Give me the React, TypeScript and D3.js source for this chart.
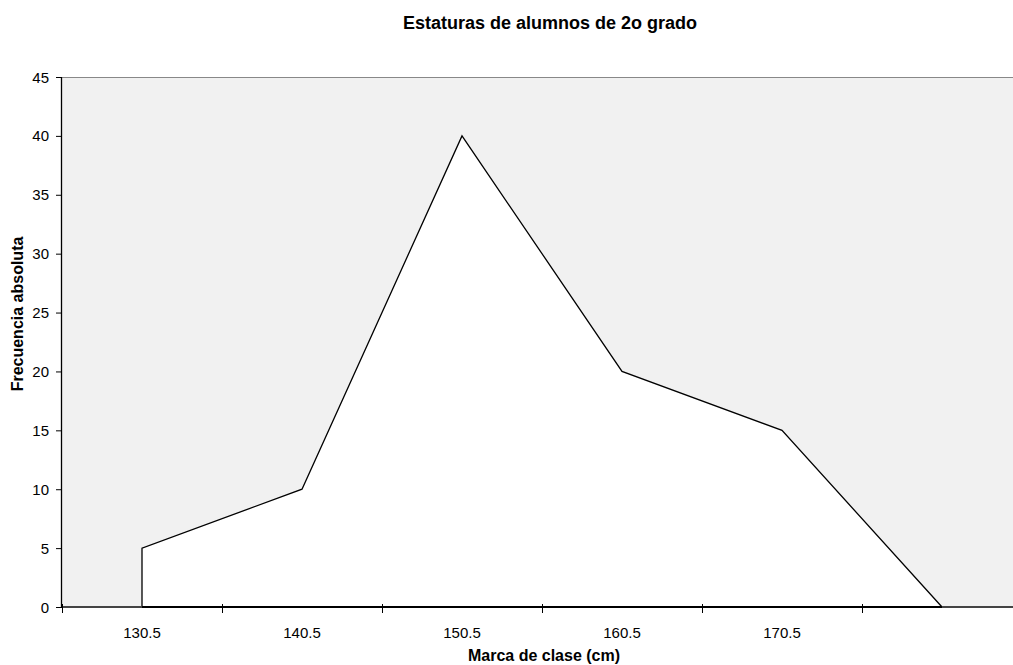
import React, { useRef, useEffect } from 'react'
import * as d3 from 'd3'

// class marks (the last one has no label in the original)
const categories = ['130.5', '140.5', '150.5', '160.5', '170.5', '180.5']
const tickLabels = ['130.5', '140.5', '150.5', '160.5', '170.5', '']
const frequencies = [5, 10, 40, 20, 15, 0]
const yTicks = [0, 5, 10, 15, 20, 25, 30, 35, 40, 45]

const W = 1013
const H = 665

const Chart: React.FC = () => {
  const ref = useRef<SVGSVGElement>(null)

  useEffect(() => {
    const svg = d3.select(ref.current)
    svg.selectAll('*').remove()

    const left = 62
    const right = 1022 // plot runs past the picture edge, like the original
    const top = 77
    const bottom = 607

    const x = d3.scaleBand().domain(categories).range([left, right])
    const y = d3.scaleLinear().domain([0, 45]).range([bottom, top])
    const cx = (c: string) => (x(c) as number) + x.bandwidth() / 2

    const font = 'Liberation Sans, Arial, sans-serif'

    // plot background
    svg
      .append('rect')
      .attr('x', left)
      .attr('y', top)
      .attr('width', right - left)
      .attr('height', bottom - top)
      .attr('fill', '#f1f1f1')
    svg
      .append('line')
      .attr('x1', left)
      .attr('x2', right)
      .attr('y1', top + 0.5)
      .attr('y2', top + 0.5)
      .attr('stroke', '#888')

    const pts: [string, number][] = categories.map((c, i) => [c, frequencies[i]])

    const area = d3
      .area<[string, number]>()
      .x(d => cx(d[0]))
      .y0(y(0))
      .y1(d => y(d[1]))

    svg
      .append('path')
      .datum(pts)
      .attr('d', area)
      .attr('fill', '#fff')
      .attr('stroke', 'none')

    // outline: up from the baseline, along the values
    const line = d3
      .line<[string, number]>()
      .x(d => cx(d[0]))
      .y(d => d[1])
    const outline: [string, number][] = [[categories[0], y(0)], ...pts.map(p => [p[0], y(p[1])] as [string, number])]
    svg
      .append('path')
      .datum(outline)
      .attr('d', line)
      .attr('fill', 'none')
      .attr('stroke', '#000')
      .attr('stroke-width', 1.3)

    // x axis
    svg
      .append('line')
      .attr('x1', left)
      .attr('x2', right)
      .attr('y1', bottom)
      .attr('y2', bottom)
      .attr('stroke', '#444')
      .attr('stroke-width', 2)
    svg
      .append('line')
      .attr('x1', cx(categories[0]))
      .attr('x2', cx(categories[categories.length - 1]))
      .attr('y1', bottom)
      .attr('y2', bottom)
      .attr('stroke', '#000')
      .attr('stroke-width', 2)

    const xt = svg.append('g')
    categories.forEach((c, i) => {
      const bx = x(c) as number
      xt.append('line')
        .attr('x1', bx + 0.5)
        .attr('x2', bx + 0.5)
        .attr('y1', bottom - 3)
        .attr('y2', bottom + 6)
        .attr('stroke', '#000')
      xt.append('text')
        .attr('x', cx(c))
        .attr('y', 638)
        .attr('text-anchor', 'middle')
        .attr('font-family', font)
        .attr('font-size', 15)
        .text(tickLabels[i])
    })

    // y axis
    svg
      .append('line')
      .attr('x1', left - 0.5)
      .attr('x2', left - 0.5)
      .attr('y1', top)
      .attr('y2', bottom)
      .attr('stroke', '#000')
      .attr('stroke-width', 1.3)
    const yt = svg.append('g')
    yTicks.forEach(t => {
      yt.append('line')
        .attr('x1', left - 6)
        .attr('x2', left)
        .attr('y1', y(t) + 0.5)
        .attr('y2', y(t) + 0.5)
        .attr('stroke', '#000')
      yt.append('text')
        .attr('x', 49)
        .attr('y', y(t) + 5.5)
        .attr('text-anchor', 'end')
        .attr('font-family', font)
        .attr('font-size', 15)
        .text(t)
    })

    // titles
    svg
      .append('text')
      .attr('x', 550)
      .attr('y', 29)
      .attr('text-anchor', 'middle')
      .attr('font-family', font)
      .attr('font-size', 18)
      .attr('font-weight', 'bold')
      .text('Estaturas de alumnos de 2o grado')
    svg
      .append('text')
      .attr('x', 544)
      .attr('y', 661)
      .attr('text-anchor', 'middle')
      .attr('font-family', font)
      .attr('font-size', 16)
      .attr('font-weight', 'bold')
      .text('Marca de clase (cm)')
    svg
      .append('text')
      .attr('transform', 'translate(23,314) rotate(-90)')
      .attr('text-anchor', 'middle')
      .attr('font-family', font)
      .attr('font-size', 16)
      .attr('font-weight', 'bold')
      .text('Frecuencia absoluta')
  }, [])

  return (
    <svg
      ref={ref}
      width={W}
      height={H}
      style={{ position: 'absolute', left: 0, top: 0, background: '#fff' }}
    />
  )
}

const App: React.FC = () => <Chart />

export default App
